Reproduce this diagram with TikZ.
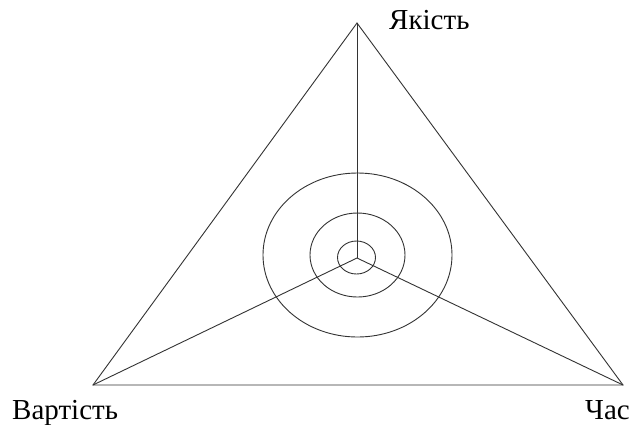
\documentclass[tikz,border=0pt]{standalone}
\usepackage{fontspec}
\setmainfont{Liberation Serif}
\begin{document}
\begin{tikzpicture}[x=1pt,y=-1pt,
  edge/.style={draw=black!80,line width=0.9pt},
  lbl/.style={inner sep=0pt,font=\fontsize{29}{32}\selectfont}]
\useasboundingbox[fill=white] (0,0) rectangle (632,424);
\coordinate (A) at (357,23);
\coordinate (B) at (93,385);
\coordinate (C) at (623,385);
\coordinate (O) at (357,258);
\draw[edge] (A) -- (B) -- (C) -- cycle;
\draw[edge] (O) -- (A);
\draw[edge] (O) -- (B);
\draw[edge] (O) -- (C);
\draw[edge] (357.5,255) ellipse [x radius=94.5, y radius=82];
\draw[edge] (357.5,255) ellipse [x radius=47.5, y radius=42];
\draw[edge] (356.5,257.5) ellipse [x radius=19, y radius=16.5];
\node[lbl,anchor=base west] (q) at (389,29) {Якість};
\node[lbl,anchor=base west] (v) at (12,419) {Вартість};
\node[lbl,anchor=base east] (t) at (630,419) {Час};
\end{tikzpicture}
\end{document}
